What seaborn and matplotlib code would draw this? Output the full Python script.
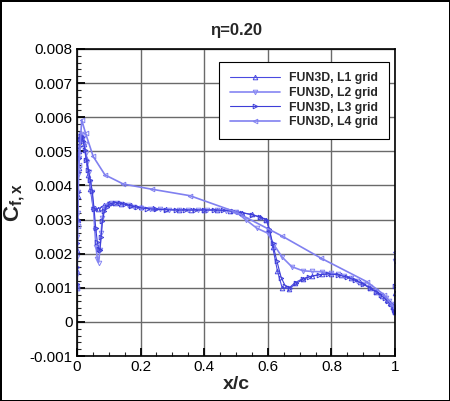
import matplotlib
matplotlib.use("Agg")
import matplotlib.pyplot as plt
from matplotlib.ticker import MultipleLocator, FixedLocator, FixedFormatter
import numpy as np
import pandas as pd
import seaborn as sns

# ---------------- data (Cf values in units of 1e-3) ----------------
SCALE = 1e-3
series_names = ["FUN3D, L1 grid", "FUN3D, L2 grid", "FUN3D, L3 grid", "FUN3D, L4 grid"]

x1 = [0.0, 0.0005, 0.001, 0.002, 0.003, 0.005, 0.007, 0.01, 0.013, 0.017, 0.022, 0.028, 0.035, 0.042, 0.05,
      0.058, 0.066, 0.075, 0.085, 0.1, 0.12, 0.14, 0.17, 0.2, 0.24, 0.28, 0.32, 0.36, 0.4, 0.44, 0.48, 0.52,
      0.55, 0.575, 0.595, 0.605, 0.615, 0.63, 0.645, 0.665, 0.685, 0.71, 0.74, 0.77, 0.8, 0.83, 0.86, 0.89,
      0.92, 0.94, 0.96, 0.975, 0.985, 0.993, 0.998, 1.0, 1.0]
y1 = [1.0, 1.5, 2.1, 3.0, 3.7, 4.5, 5.0, 5.35, 5.45, 5.4, 5.2, 4.8, 4.3, 3.9, 3.38,
      3.33, 3.32, 3.35, 3.42, 3.48, 3.5, 3.47, 3.42, 3.37, 3.33, 3.3, 3.29, 3.29, 3.29, 3.28, 3.26, 3.2,
      3.15, 3.08, 3.0, 2.7, 2.2, 1.5, 1.0, 0.98, 1.15, 1.27, 1.35, 1.4, 1.41, 1.37, 1.28, 1.16,
      1.0, 0.88, 0.76, 0.65, 0.55, 0.45, 0.35, 0.3, 0.85]

x2 = [0.0, 0.0003, 0.0007, 0.0012, 0.002, 0.003, 0.004, 0.0055, 0.007, 0.009, 0.011, 0.014, 0.017, 0.02,
      0.024, 0.028, 0.032, 0.037, 0.042, 0.047, 0.052, 0.056, 0.06, 0.064, 0.068, 0.072, 0.076, 0.08, 0.085,
      0.09, 0.1, 0.11, 0.125, 0.14, 0.16, 0.18, 0.2, 0.23, 0.26, 0.29, 0.32, 0.35, 0.38, 0.41, 0.44, 0.47,
      0.5, 0.53, 0.565, 0.6, 0.62, 0.645, 0.675, 0.71, 0.74, 0.77, 0.8, 0.82, 0.84, 0.86, 0.88, 0.9, 0.92,
      0.94, 0.955, 0.97, 0.98, 0.988, 0.994, 0.998, 1.0, 1.0]
y2 = [1.05, 1.4, 1.9, 2.5, 3.2, 3.8, 4.3, 4.8, 5.1, 5.3, 5.45, 5.5, 5.48, 5.4,
      5.2, 4.95, 4.7, 4.4, 4.1, 3.8, 3.3, 2.7, 2.2, 1.85, 1.74, 2.1, 2.6, 3.05, 3.3,
      3.4, 3.47, 3.5, 3.5, 3.47, 3.42, 3.38, 3.35, 3.32, 3.3, 3.29, 3.28, 3.28, 3.28, 3.28, 3.27, 3.26,
      3.22, 3.0, 2.75, 2.6, 2.25, 1.9, 1.62, 1.5, 1.48, 1.47, 1.43, 1.4, 1.35, 1.29, 1.21, 1.12, 1.02,
      0.9, 0.8, 0.69, 0.6, 0.52, 0.44, 0.36, 0.32, 1.78]

x3 = [0.0, 0.0004, 0.001, 0.0018, 0.003, 0.0045, 0.006, 0.008, 0.01, 0.013, 0.016, 0.02, 0.025, 0.03,
      0.036, 0.042, 0.048, 0.054, 0.059, 0.064, 0.068, 0.072, 0.076, 0.08, 0.086, 0.093, 0.105, 0.12, 0.135,
      0.15, 0.17, 0.19, 0.22, 0.25, 0.28, 0.31, 0.34, 0.37, 0.4, 0.43, 0.46, 0.49, 0.52, 0.55, 0.575, 0.595,
      0.605, 0.615, 0.628, 0.642, 0.655, 0.67, 0.69, 0.71, 0.73, 0.76, 0.79, 0.82, 0.85, 0.875, 0.9, 0.92,
      0.94, 0.955, 0.968, 0.978, 0.986, 0.992, 0.996, 0.999, 1.0, 1.0]
y3 = [1.1, 1.6, 2.3, 3.0, 3.8, 4.4, 4.8, 5.15, 5.35, 5.45, 5.42, 5.3, 5.05, 4.75,
      4.45, 4.15, 3.85, 3.3, 2.75, 2.35, 2.15, 2.11, 2.5, 2.95, 3.25, 3.38, 3.46, 3.5, 3.48,
      3.45, 3.4, 3.36, 3.32, 3.3, 3.29, 3.28, 3.28, 3.28, 3.28, 3.28, 3.27, 3.25, 3.2, 3.14, 3.07, 3.0,
      2.72, 2.3, 1.8, 1.3, 1.05, 1.0, 1.13, 1.25, 1.32, 1.38, 1.41, 1.38, 1.31, 1.22, 1.11, 1.0,
      0.89, 0.79, 0.69, 0.6, 0.52, 0.45, 0.38, 0.32, 0.28, 1.06]

x4 = [0.0, 0.002, 0.006, 0.015, 0.027, 0.051, 0.088, 0.146, 0.235, 0.355, 0.497, 0.644, 0.767, 0.911,
      0.965, 0.99, 1.0, 1.0]
y4 = [1.0, 2.8, 4.6, 5.92, 5.53, 4.85, 4.31, 4.04, 3.89, 3.7, 3.23, 2.52, 1.87, 1.18,
      0.8, 0.5, 0.4, 2.05]

xticks = [0, 0.2, 0.4, 0.6, 0.8, 1]
xtick_labels = ["0", "0.2", "0.4", "0.6", "0.8", "1"]
yticks = [-0.001, 0, 0.001, 0.002, 0.003, 0.004, 0.005, 0.006, 0.007, 0.008]
ytick_labels = ["-0.001", "0", "0.001", "0.002", "0.003", "0.004", "0.005", "0.006", "0.007", "0.008"]

# ---------------- styling ----------------
sns.set_theme(style="white")
plt.rcParams["font.family"] = ["Liberation Sans", "DejaVu Sans"]
plt.rcParams["mathtext.fontset"] = "custom"
plt.rcParams["mathtext.rm"] = "Liberation Sans"
plt.rcParams["mathtext.bf"] = "Liberation Sans:bold"

markers = ["^", "v", ">", "<"]
colors = ["#4a4ae0", "#8585f2", "#3e3ed8", "#8080f0"]
lws = [0.8, 1.2, 0.8, 1.2]

frames = []
for name, xs, ys in zip(series_names, [x1, x2, x3, x4], [y1, y2, y3, y4]):
    frames.append(pd.DataFrame({"x": xs, "cf": np.array(ys) * SCALE, "series": name,
                                "order": np.arange(len(xs))}))
df = pd.concat(frames, ignore_index=True)

fig = plt.figure(figsize=(4.5, 4.01), dpi=100, linewidth=2, edgecolor="black")
ax = fig.add_axes([0.171, 0.112, 0.707, 0.766])

for i, name in enumerate(series_names):
    sub = df[df["series"] == name]
    sns.lineplot(data=sub, x="x", y="cf", sort=False, estimator=None, ax=ax,
                 color=colors[i], lw=lws[i], marker=markers[i], markersize=3.3,
                 markerfacecolor="none", markeredgecolor=colors[i], markeredgewidth=0.7,
                 label=name)

ax.set_xlim(0, 1)
ax.set_ylim(-0.001, 0.008)
ax.xaxis.set_major_locator(FixedLocator(xticks))
ax.xaxis.set_major_formatter(FixedFormatter(xtick_labels))
ax.yaxis.set_major_locator(FixedLocator(yticks))
ax.yaxis.set_major_formatter(FixedFormatter(ytick_labels))
ax.xaxis.set_minor_locator(MultipleLocator(0.05))
ax.yaxis.set_minor_locator(MultipleLocator(0.0002))

ax.tick_params(axis="both", which="major", direction="in", length=6, width=1.3,
               labelsize=11, colors="black", pad=3, bottom=True, left=True, top=False, right=False)
ax.tick_params(axis="both", which="minor", direction="in", length=3, width=0.8,
               bottom=True, left=True, top=False, right=False)
for s in ax.spines.values():
    s.set_color("black")
    s.set_linewidth(1.2)

ax.grid(True, which="major", color="#6a6a6a", lw=1.0)
ax.set_axisbelow(True)

ax.set_title("η=0.20", fontsize=12, fontweight="bold", pad=10)
ax.set_xlabel("x/c", fontsize=14, fontweight="bold", labelpad=1)
ax.set_ylabel(r"$\mathbf{C}_{\mathbf{f,x}}$", fontsize=16, labelpad=2)

leg = ax.legend(loc="upper left", bbox_to_anchor=(0.447, 0.958), frameon=True, fancybox=False,
                framealpha=1, edgecolor="black", handlelength=4.1, handletextpad=0.8,
                labelspacing=0.22, borderpad=0.85, borderaxespad=0.0,
                prop={"weight": "bold", "size": 8.8})
leg.get_frame().set_linewidth(0.8)

fig.savefig("out.png", dpi=100)
